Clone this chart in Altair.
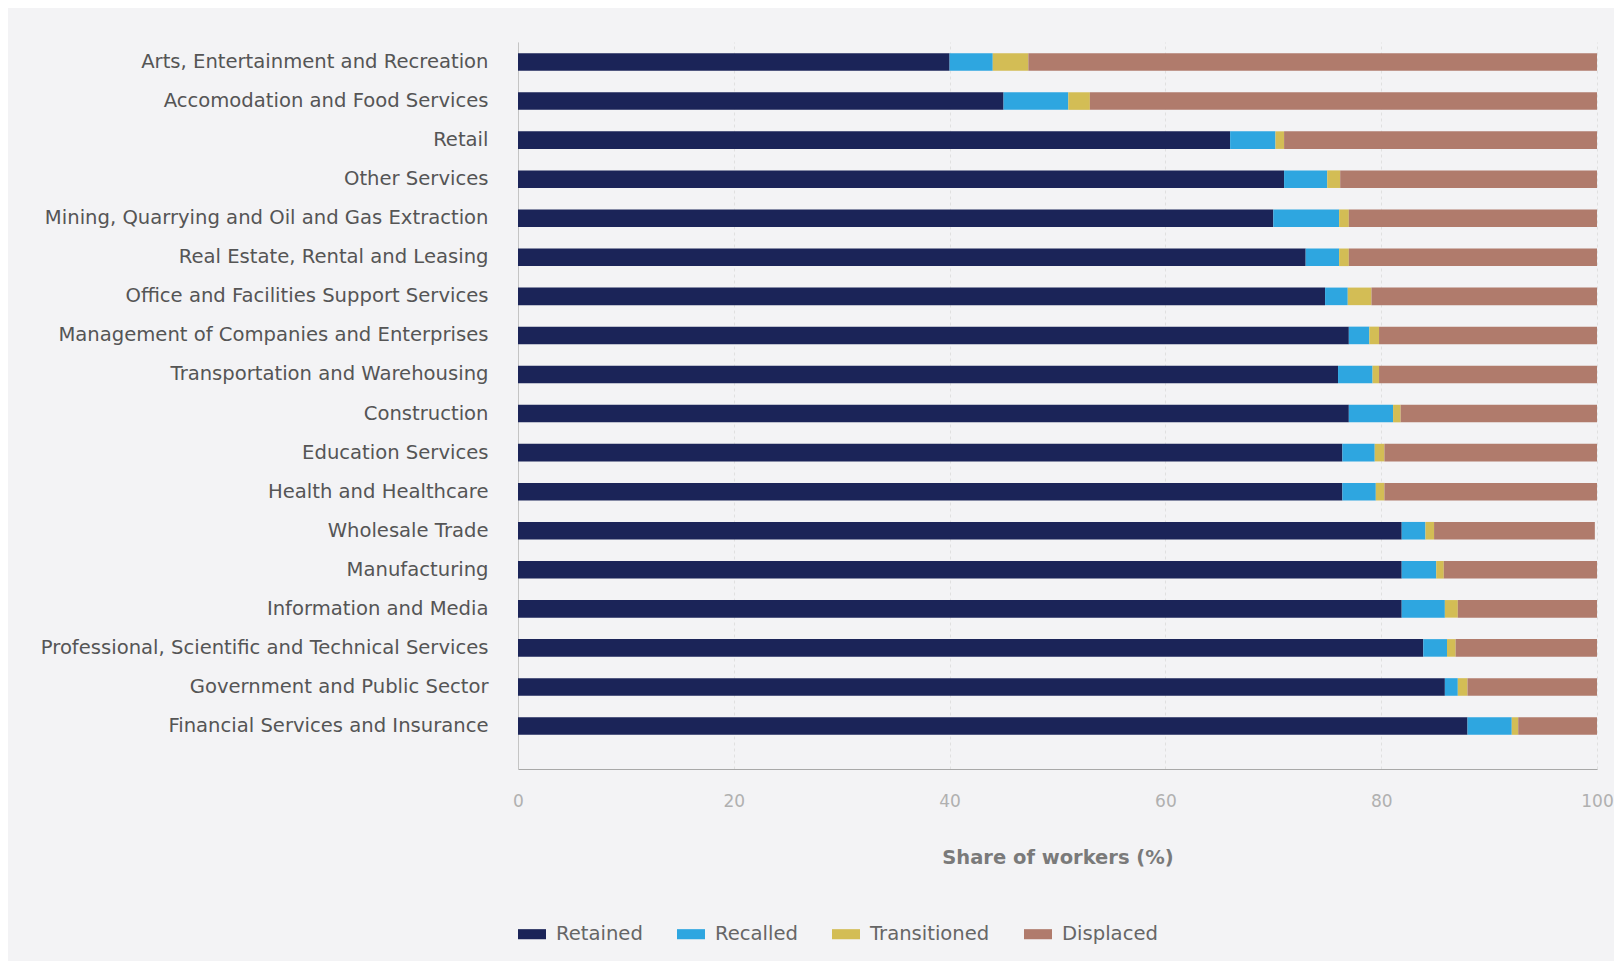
import altair as alt
import pandas as pd

categories = [
    "Arts, Entertainment and Recreation",
    "Accomodation and Food Services",
    "Retail",
    "Other Services",
    "Mining, Quarrying and Oil and Gas Extraction",
    "Real Estate, Rental and Leasing",
    "Office and Facilities Support Services",
    "Management of Companies and Enterprises",
    "Transportation and Warehousing",
    "Construction",
    "Education Services",
    "Health and Healthcare",
    "Wholesale Trade",
    "Manufacturing",
    "Information and Media",
    "Professional, Scientific and Technical Services",
    "Government and Public Sector",
    "Financial Services and Insurance",
]

retained = [40.0, 45.0, 66.0, 71.0, 70.0, 73.0, 74.8, 77.0, 76.0, 77.0, 76.4, 76.4, 81.9, 81.9, 81.9, 83.9, 85.9, 88.0]
recalled = [4.0, 6.0, 4.2, 4.0, 6.1, 3.1, 2.1, 1.9, 3.2, 4.1, 3.0, 3.1, 2.2, 3.2, 4.0, 2.2, 1.2, 4.1]
transitioned = [3.3, 2.0, 0.8, 1.2, 0.9, 0.9, 2.2, 0.9, 0.6, 0.7, 0.9, 0.8, 0.8, 0.7, 1.2, 0.8, 0.9, 0.6]
displaced = [52.7, 47.0, 29.0, 23.8, 23.0, 23.0, 20.9, 20.2, 20.2, 18.2, 19.7, 19.7, 14.9, 14.2, 12.9, 13.1, 12.0, 7.3]

status_labels = ["Retained", "Recalled", "Transitioned", "Displaced"]
status_colors = ["#1b2458", "#2ea6e0", "#d3bd55", "#b07b6c"]
x_ticks = [0, 20, 40, 60, 80, 100]

series = [retained, recalled, transitioned, displaced]
rows = []
for i, c in enumerate(categories):
    for j, s in enumerate(status_labels):
        rows.append({"Industry": c, "Status": s, "Share": series[j][i], "order": j})
df = pd.DataFrame(rows)

FONT = "DejaVu Sans"

chart = alt.Chart(df).mark_bar().encode(
    y=alt.Y(
        "Industry:N",
        sort=categories,
        scale=alt.Scale(paddingInner=0.55, paddingOuter=0.581, align=0.247),
        axis=alt.Axis(
            title=None, labelFontSize=19.6, labelColor="#555555", labelPadding=30,
            ticks=False, domainColor="#c4c4c4", labelFont=FONT, labelLimit=700,
        ),
    ),
    x=alt.X(
        "Share:Q",
        stack="zero",
        scale=alt.Scale(domain=[0, 100], nice=False),
        axis=alt.Axis(
            values=x_ticks, title="Share of workers (%)", titleFont=FONT,
            titleFontSize=19.5, titleFontWeight="bold", titleColor="#7a7a7a",
            titlePadding=39, labelFont=FONT, labelFontSize=17, labelColor="#b0b0b0",
            labelPadding=24, labelFlush=False, ticks=False, domainColor="#a8a8a8",
            grid=True, gridColor="#e0e0e0", gridDash=[3, 3], gridWidth=1,
        ),
    ),
    color=alt.Color(
        "Status:N",
        sort=status_labels,
        scale=alt.Scale(domain=status_labels, range=status_colors),
        legend=alt.Legend(
            title=None, orient="none", legendX=0, legendY=878, direction="horizontal",
            symbolType="M-1,-0.36L1,-0.36L1,0.36L-1,0.36Z", symbolSize=784,
            symbolStrokeWidth=0, labelFont=FONT, labelFontSize=19.6, labelColor="#666666",
            labelOffset=10, columnPadding=34,
        ),
    ),
    order=alt.Order("order:Q", sort="ascending"),
).properties(
    width=1079,
    height=727,
    padding={"left": 510, "top": 34, "right": 17, "bottom": 192},
    autosize=alt.AutoSizeParams(type="none"),
    background="#f3f3f5",
).configure_view(stroke=None)

chart.save("out.html", embed_options={"renderer": "svg", "actions": False})
